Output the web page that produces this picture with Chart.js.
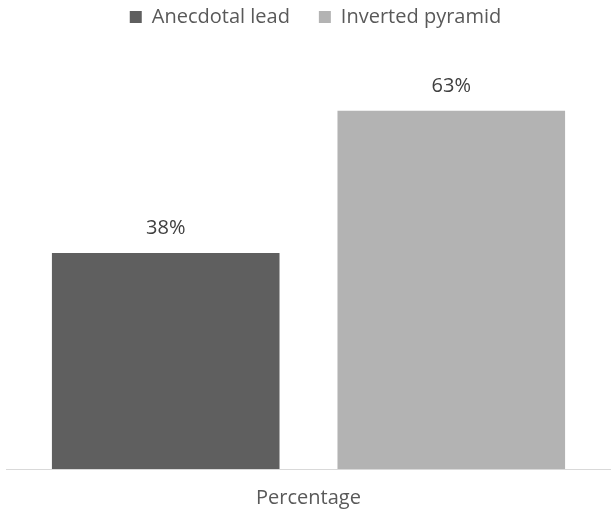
<!DOCTYPE html>
<html>
<head>
<meta charset="utf-8">
<script src="https://cdn.jsdelivr.net/npm/chart.js@4/dist/chart.umd.min.js"></script>
<style>
html,body{margin:0;padding:0;background:#fff;}
#wrap{width:611px;height:511px;}
</style>
</head>
<body>
<div id="wrap"><canvas id="c" width="611" height="511"></canvas></div>
<script>
const categories = ["Percentage"];
const seriesNames = ["Anecdotal lead", "Inverted pyramid"];
const anecdotalLead = [38];
const invertedPyramid = [63];
const seriesColors = ["#5f5f5f", "#b3b3b3"];

const FONT = "'Open Sans', 'DejaVu Sans', sans-serif";
const FSIZE = 20;

const legendSpacer = {
  id: 'legendSpacer',
  beforeInit(chart) {
    const orig = chart.legend.fit;
    chart.legend.fit = function () {
      orig.call(this);
      this.height += 34;
    };
  },
  afterLayout(chart) {
    chart.legend.left += 7;
    chart.legend.right += 7;
  }
};

const barLabels = {
  id: 'barLabels',
  afterDatasetsDraw(chart) {
    const ctx = chart.ctx;
    ctx.save();
    ctx.font = FSIZE + "px " + FONT;
    ctx.fillStyle = "#404040";
    ctx.textAlign = "center";
    ctx.textBaseline = "middle";
    chart.data.datasets.forEach((ds, i) => {
      const meta = chart.getDatasetMeta(i);
      meta.data.forEach((bar, j) => {
        ctx.fillText(ds.data[j] + "%", bar.x, bar.y - 25);
      });
    });
    ctx.restore();
  }
};

new Chart(document.getElementById('c'), {
  type: 'bar',
  data: {
    labels: categories,
    datasets: [
      { label: seriesNames[0], data: anecdotalLead, backgroundColor: seriesColors[0], categoryPercentage: 0.944, barPercentage: 0.797 },
      { label: seriesNames[1], data: invertedPyramid, backgroundColor: seriesColors[1], categoryPercentage: 0.944, barPercentage: 0.797 }
    ]
  },
  options: {
    responsive: false,
    animation: false,
    devicePixelRatio: 1,
    layout: { padding: { left: 6, right: 0, top: -22, bottom: -16 } },
    plugins: {
      legend: {
        position: 'top',
        labels: {
          boxWidth: 12,
          boxHeight: 12,
          padding: 29,
          color: '#595959',
          font: { family: FONT, size: FSIZE }
        }
      },
      tooltip: { enabled: false }
    },
    scales: {
      x: {
        grid: { display: false, drawTicks: false },
        border: { display: true, color: '#d9d9d9', width: 1 },
        ticks: { color: '#595959', padding: 17, font: { family: FONT, size: FSIZE } }
      },
      y: {
        display: false,
        min: 0,
        max: 70
      }
    }
  },
  plugins: [legendSpacer, barLabels]
});
</script>
</body>
</html>
